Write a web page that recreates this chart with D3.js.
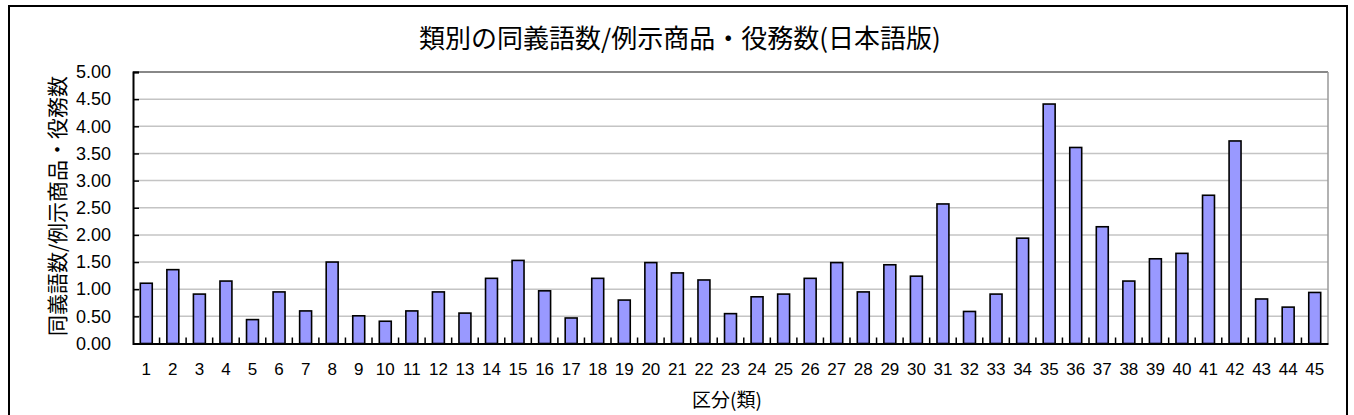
<!DOCTYPE html>
<html><head><meta charset="utf-8">
<script src="https://cdn.jsdelivr.net/npm/d3@7"></script>
<style>body{margin:0;background:#fff}svg{display:block}</style>
</head><body>
<script>
const categories = d3.range(1, 46).map(String);
const values = [1.11,1.36,0.91,1.15,0.44,0.95,0.60,1.50,0.51,0.41,0.60,0.95,0.56,1.20,1.53,
  0.97,0.47,1.20,0.80,1.49,1.30,1.17,0.55,0.86,0.91,1.20,1.49,0.95,1.45,1.24,
  2.57,0.59,0.91,1.94,4.41,3.61,2.15,1.15,1.56,1.66,2.73,3.73,0.82,0.67,0.94];
const yTicks = [0,0.5,1,1.5,2,2.5,3,3.5,4,4.5,5];
const title = "類別の同義語数/例示商品・役務数(日本語版)";
const yTitle = "同義語数/例示商品・役務数";
const xTitle = "区分(類)";

const W = 1354, H = 415;
const m = {left:133, right:1328, top:72, bottom:343.5};
const font = "'Noto Sans CJK JP', 'Liberation Sans', sans-serif";

const svg = d3.select("body").append("svg").attr("width", W).attr("height", H);
svg.append("rect").attr("x", 9).attr("y", 6).attr("width", 1338).attr("height", 420)
  .attr("fill", "#fff").attr("stroke", "#000").attr("stroke-width", 2);

const x = d3.scaleBand().domain(categories).range([m.left, m.right]).paddingInner(0.55).paddingOuter(0.275);
const y = d3.scaleLinear().domain([0,5]).range([m.bottom, m.top]);

// gridlines
svg.append("g").selectAll("line").data(yTicks.slice(1)).join("line")
  .attr("x1", m.left).attr("x2", m.right)
  .attr("y1", d => y(d)).attr("y2", d => y(d))
  .attr("stroke", d => d === 5 ? "#888" : "#c4c4c4").attr("stroke-width", d => d === 5 ? 2 : 1.5);
svg.append("line").attr("x1", m.right).attr("x2", m.right).attr("y1", m.top).attr("y2", m.bottom)
  .attr("stroke", "#999").attr("stroke-width", 1.5);

// bars
svg.append("g").selectAll("rect").data(values).join("rect")
  .attr("x", (d,i) => x(categories[i]))
  .attr("width", x.bandwidth())
  .attr("y", d => y(d))
  .attr("height", d => y(0) - y(d))
  .attr("fill", "#9999ff").attr("stroke", "#000").attr("stroke-width", 1.6);

// y axis
const yAxis = d3.axisLeft(y).tickValues(yTicks).tickFormat(d3.format(".2f")).tickSize(-6).tickPadding(22);
const gy = svg.append("g").attr("transform", `translate(${m.left},0)`).call(yAxis);
gy.select(".domain").attr("stroke", "#000").attr("stroke-width", 2);
gy.selectAll(".tick line").attr("stroke", "#000").attr("stroke-width", 1.5);
gy.selectAll("text").attr("font-family", "'Liberation Sans', sans-serif").attr("font-size", 18).attr("fill", "#000");

// x axis
const xAxis = d3.axisBottom(x).tickSize(0).tickPadding(19);
const gx = svg.append("g").attr("transform", `translate(0,${m.bottom})`).call(xAxis);
gx.select(".domain").attr("stroke", "#000").attr("stroke-width", 2);
gx.selectAll("text").attr("font-family", "'Liberation Sans', sans-serif").attr("font-size", 17).attr("fill", "#000");
// category boundary ticks
const gap = x.step() * x.paddingOuter();
svg.append("g").selectAll("line").data(categories.slice(1)).join("line")
  .attr("x1", d => x(d) - gap)
  .attr("x2", d => x(d) - gap)
  .attr("y1", m.bottom).attr("y2", m.bottom - 6)
  .attr("stroke", "#000").attr("stroke-width", 1.5);

// titles
svg.append("text").attr("x", 680).attr("y", 48).attr("text-anchor", "middle")
  .attr("font-family", font).attr("font-size", 26).attr("fill", "#000").text(title);
svg.append("text").attr("transform", "translate(65,206) rotate(-90)").attr("text-anchor", "middle")
  .attr("font-family", font).attr("font-size", 21).attr("fill", "#000").text(yTitle);
svg.append("text").attr("x", 727).attr("y", 407).attr("text-anchor", "middle")
  .attr("font-family", font).attr("font-size", 19).attr("fill", "#000").text(xTitle);
</script>
</body></html>
